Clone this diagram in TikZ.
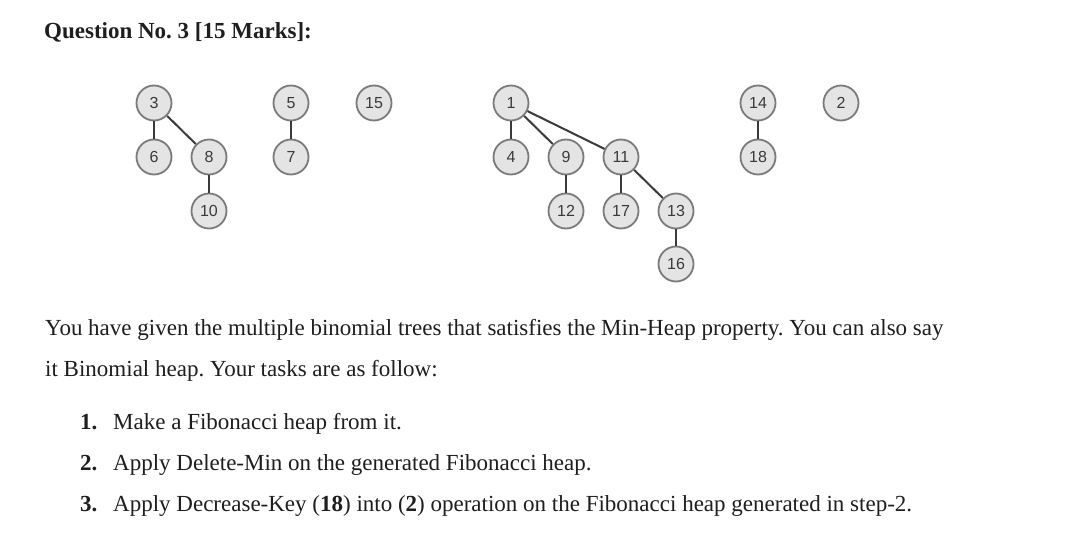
\documentclass[tikz,border=0pt]{standalone}
\usepackage{fontspec}
\setmainfont{Liberation Serif}
\newfontfamily\numfont{Liberation Sans}
\frenchspacing
\definecolor{nodefill}{HTML}{E4E4E4}
\definecolor{nodeline}{HTML}{7A7A7A}
\definecolor{edgecol}{HTML}{3A3A3A}
\definecolor{txt}{HTML}{1E1E1E}
\tikzset{
  hnode/.style={circle, draw=nodeline, fill=nodefill, line width=1.8pt, minimum size=35pt, inner sep=0pt, font=\numfont\fontsize{16}{18}\selectfont, text=edgecol},
  hedge/.style={draw=edgecol, line width=2pt},
  bodytext/.style={anchor=base west, inner sep=0pt, text=txt, font=\fontsize{23}{26}\selectfont},
}
\begin{document}
\begin{tikzpicture}[x=1pt,y=-1pt]
\useasboundingbox[fill=white] (0,0) rectangle (1080,548);
% title
\node[bodytext, font=\bfseries\fontsize{23}{26}\selectfont] (title) at (44,39) {Question No. 3 [15 Marks]:};
% tree 1
\node[hnode] (n3) at (154,103) {3};
\node[hnode] (n6) at (154,157) {6};
\node[hnode] (n8) at (209,157) {8};
\node[hnode] (n10) at (209,211) {10};
\draw[hedge] (n3) -- (n6);
\draw[hedge] (n3) -- (n8);
\draw[hedge] (n8) -- (n10);
% tree 2
\node[hnode] (n5) at (291,103) {5};
\node[hnode] (n7) at (291,157) {7};
\draw[hedge] (n5) -- (n7);
% tree 3
\node[hnode] (n15) at (374,103) {15};
% tree 4
\node[hnode] (n1) at (511,103) {1};
\node[hnode] (n4) at (511,157) {4};
\node[hnode] (n9) at (566,157) {9};
\node[hnode] (n11) at (621,157) {11};
\node[hnode] (n12) at (566,211) {12};
\node[hnode] (n17) at (621,211) {17};
\node[hnode] (n13) at (676,211) {13};
\node[hnode] (n16) at (676,264) {16};
\draw[hedge] (n1) -- (n4);
\draw[hedge] (n1) -- (n9);
\draw[hedge] (n1) -- (n11);
\draw[hedge] (n9) -- (n12);
\draw[hedge] (n11) -- (n17);
\draw[hedge] (n11) -- (n13);
\draw[hedge] (n13) -- (n16);
% tree 5
\node[hnode] (n14) at (758,103) {14};
\node[hnode] (n18) at (758,157) {18};
\draw[hedge] (n14) -- (n18);
% tree 6
\node[hnode] (n2) at (841,103) {2};
% paragraph
\node[bodytext] (p1) at (45,335) {You have given the multiple binomial trees that satisfies the Min-Heap property. You can also say};
\node[bodytext] (p2) at (45,376) {it Binomial heap. Your tasks are as follow:};
% list
\node[bodytext] (l1n) at (80,429) {\textbf{1.}};
\node[bodytext] (l1) at (113,429) {Make a Fibonacci heap from it.};
\node[bodytext] (l2n) at (80,470) {\textbf{2.}};
\node[bodytext] (l2) at (113,470) {Apply Delete-Min on the generated Fibonacci heap.};
\node[bodytext] (l3n) at (80,511) {\textbf{3.}};
\node[bodytext] (l3) at (113,511) {Apply Decrease-Key (\textbf{18}) into (\textbf{2}) operation on the Fibonacci heap generated in step-2.};
\end{tikzpicture}
\end{document}
